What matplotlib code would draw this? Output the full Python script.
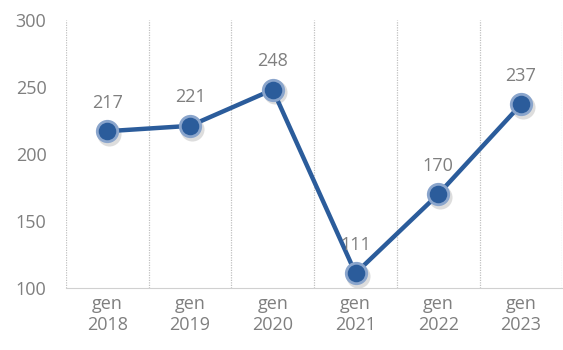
import matplotlib.pyplot as plt

anni = ["gen\n2018", "gen\n2019", "gen\n2020", "gen\n2021", "gen\n2022", "gen\n2023"]
valori = [217, 221, 248, 111, 170, 237]
yticks = [100, 150, 200, 250, 300]

blu = "#2b5c9b"
grigio = "#7f7f7f"

plt.rcParams['font.family'] = ['Open Sans', 'DejaVu Sans']

fig = plt.figure(figsize=(5.63, 3.5), dpi=100)
ax = fig.add_axes([0.117, 0.177, 0.882, 0.766])

x = list(range(len(valori)))
ax.plot(x, valori, color=blu, lw=3.2, solid_capstyle="round", zorder=3)
# alone chiaro + ombra dei marker
ax.scatter([v + 0.025 for v in x], [v - 2 for v in valori], s=300, color="#bdbdbd", alpha=0.5, zorder=2, lw=0)
ax.scatter(x, valori, s=280, color="#8aa5cc", zorder=4, lw=0)
ax.scatter(x, valori, s=160, color=blu, zorder=5, lw=0)

for xi, v in zip(x, valori):
    ax.annotate(str(v), (xi, v), xytext=(0, 14), textcoords="offset points",
                ha="center", va="bottom", fontsize=13, color=grigio)

ax.set_xlim(-0.5, len(valori) - 0.5)
ax.set_ylim(100, 300)
ax.set_yticks(yticks)
ax.set_xticks(x)
ax.set_xticklabels(anni)
ax.set_xticks([i + 0.5 for i in range(-1, len(valori))], minor=True)
ax.grid(axis="x", which="minor", color="#c0c0c0", ls=(0, (1, 1)), lw=0.9)
ax.tick_params(axis="both", which="both", length=0, colors=grigio, labelsize=13)
ax.tick_params(axis="y", pad=14)
ax.tick_params(axis="x", pad=5)
for s in ["top", "right", "left"]:
    ax.spines[s].set_visible(False)
ax.spines["bottom"].set_color("#d0d0d0")

fig.savefig("out.png", dpi=100)
